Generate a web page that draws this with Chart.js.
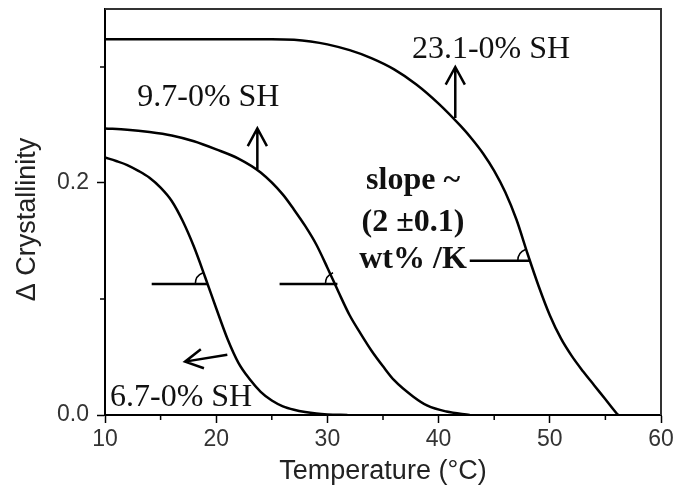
<!DOCTYPE html>
<html>
<head>
<meta charset="utf-8">
<title>Delta Crystallinity vs Temperature</title>
<script src="https://cdn.jsdelivr.net/npm/chart.js@4.4.0/dist/chart.umd.min.js"></script>
<style>
  html, body { margin: 0; padding: 0; background: #fff; }
  canvas { display: block; }
</style>
</head>
<body>
<canvas id="chart" width="673" height="497"></canvas>
<script>
// 6.7-0% SH
const temp67  = [10, 11, 12, 13, 14, 15, 16, 17, 18, 19, 20, 21, 22, 23, 24, 25, 26, 27, 28, 29, 30, 31.8];
const cryst67 = [0.222, 0.219, 0.2155, 0.2105, 0.2045, 0.196, 0.1845, 0.167, 0.145, 0.119, 0.092, 0.066, 0.045, 0.031, 0.020, 0.0125, 0.0075, 0.0045, 0.0025, 0.0012, 0.0005, 0];

// 9.7-0% SH
const temp97  = [10, 12, 14, 16, 18, 20, 22, 24, 26, 27, 28, 29, 30, 31, 32, 33, 34, 35, 36, 37.7, 39, 40.7, 42.8];
const cryst97 = [0.247, 0.246, 0.244, 0.241, 0.236, 0.229, 0.221, 0.209, 0.190, 0.177, 0.163, 0.147, 0.127, 0.106, 0.086, 0.070, 0.055, 0.042, 0.030, 0.016, 0.008, 0.003, 0];

// 23.1-0% SH
const temp231  = [10, 15, 20, 25, 27, 28.5, 30, 32, 34, 36, 38, 40, 42, 43, 44, 45, 46, 47, 48, 49, 50, 51, 52, 53, 54, 55, 56, 56.15];
const cryst231 = [0.324, 0.324, 0.324, 0.324, 0.3235, 0.322, 0.3195, 0.3145, 0.3075, 0.298, 0.285, 0.2685, 0.249, 0.238, 0.2255, 0.2105, 0.192, 0.1685, 0.139, 0.111, 0.086, 0.066, 0.0505, 0.0375, 0.0255, 0.0135, 0.0015, 0];

// axis ticks
const xTicks = [10, 20, 30, 40, 50, 60];
const xMinor = [15, 25, 35, 45, 55];
const yTicks = [0.0, 0.2];
const yMinor = [0.1, 0.3];

// annotations (data coordinates)
const slopeMarks = [
  { x0: 14.2, x1: 19.2, y: 0.113 },
  { x0: 25.7, x1: 30.9, y: 0.113 },
  { x0: 42.8, x1: 48.2, y: 0.133 }
];
const arrows = [
  { from: [23.7, 0.212], to: [23.7, 0.247] },
  { from: [41.5, 0.256], to: [41.5, 0.300] },
  { from: [21.0, 0.052], to: [17.2, 0.046] }
];
const serifLabels = [
  { text: '23.1-0% SH', x: 37.6, y: 0.308, align: 'left',   bold: false },
  { text: '9.7-0% SH',  x: 12.9, y: 0.266, align: 'left',   bold: false },
  { text: '6.7-0% SH',  x: 10.45, y: 0.008, align: 'left',  bold: false },
  { text: 'slope ~',    x: 37.7, y: 0.195, align: 'center', bold: true },
  { text: '(2 \u00b10.1)', x: 37.7, y: 0.159, align: 'center', bold: true },
  { text: 'wt% /K',     x: 37.7, y: 0.127, align: 'center', bold: true }
];

function toPx(chart, x, y) {
  return [chart.scales.x.getPixelForValue(x), chart.scales.y.getPixelForValue(y)];
}

// 枠線・補助目盛・注釈を描く
const decorPlugin = {
  id: 'decor',
  afterDraw(chart) {
    const ctx = chart.ctx;
    const a = chart.chartArea;
    const xs = chart.scales.x;
    const ys = chart.scales.y;
    ctx.save();

    // top / right frame
    ctx.strokeStyle = '#333';
    ctx.lineWidth = 2;
    ctx.beginPath();
    ctx.moveTo(a.left, a.top);
    ctx.lineTo(a.right, a.top);
    ctx.lineTo(a.right, a.bottom);
    ctx.stroke();

    // minor ticks
    ctx.strokeStyle = '#000';
    ctx.lineWidth = 1.5;
    ctx.beginPath();
    xMinor.forEach(v => {
      const px = xs.getPixelForValue(v);
      ctx.moveTo(px, a.bottom);
      ctx.lineTo(px, a.bottom + 5);
    });
    yMinor.forEach(v => {
      const py = ys.getPixelForValue(v);
      ctx.moveTo(a.left, py);
      ctx.lineTo(a.left - 5, py);
    });
    ctx.stroke();

    // slope lines + angle arcs
    slopeMarks.forEach(m => {
      const [p0, py] = toPx(chart, m.x0, m.y);
      const [p1] = toPx(chart, m.x1, m.y);
      ctx.lineWidth = 2.5;
      ctx.beginPath();
      ctx.moveTo(p0, py);
      ctx.lineTo(p1, py);
      ctx.stroke();
      ctx.lineWidth = 1.5;
      ctx.beginPath();
      ctx.arc(p1, py, 12, Math.PI, Math.PI + 1.2);
      ctx.stroke();
    });

    // arrows
    ctx.lineWidth = 2.5;
    arrows.forEach(ar => {
      const [fx, fy] = toPx(chart, ar.from[0], ar.from[1]);
      const [tx, ty] = toPx(chart, ar.to[0], ar.to[1]);
      const ang = Math.atan2(ty - fy, tx - fx);
      const len = 20, wid = 0.5;
      ctx.beginPath();
      ctx.moveTo(fx, fy);
      ctx.lineTo(tx, ty);
      ctx.moveTo(tx - len * Math.cos(ang - wid), ty - len * Math.sin(ang - wid));
      ctx.lineTo(tx, ty);
      ctx.lineTo(tx - len * Math.cos(ang + wid), ty - len * Math.sin(ang + wid));
      ctx.stroke();
    });

    // labels
    ctx.fillStyle = '#111';
    ctx.textBaseline = 'alphabetic';
    serifLabels.forEach(l => {
      const [px, py] = toPx(chart, l.x, l.y);
      ctx.font = (l.bold ? 'bold ' : '') + '32px "Liberation Serif", "Times New Roman", serif';
      ctx.textAlign = l.align;
      ctx.fillText(l.text, px, py);
    });

    ctx.restore();
  }
};

const tickFont = { family: '"Liberation Sans", Arial, sans-serif', size: 23 };

new Chart(document.getElementById('chart').getContext('2d'), {
  type: 'line',
  data: {
    datasets: [
      { label: '6.7-0% SH',  data: temp67.map((t, i) => ({ x: t, y: cryst67[i] })) },
      { label: '9.7-0% SH',  data: temp97.map((t, i) => ({ x: t, y: cryst97[i] })) },
      { label: '23.1-0% SH', data: temp231.map((t, i) => ({ x: t, y: cryst231[i] })) }
    ]
  },
  options: {
    responsive: false,
    animation: false,
    events: [],
    layout: { padding: { top: 9, right: 12, left: 0, bottom: 0 } },
    plugins: {
      legend: { display: false },
      tooltip: { enabled: false }
    },
    elements: {
      point: { radius: 0 },
      line: { borderColor: '#000', borderWidth: 2.5, cubicInterpolationMode: 'monotone', fill: false }
    },
    scales: {
      x: {
        type: 'linear',
        min: 10,
        max: 60,
        afterBuildTicks: s => { s.ticks = xTicks.map(v => ({ value: v })); },
        afterFit: s => { s.height = 82; s.paddingLeft = 0; s.paddingRight = 0; },
        grid: { drawOnChartArea: false, tickLength: 8, tickWidth: 1.5, tickColor: '#000' },
        border: { color: '#000', width: 2 },
        ticks: { font: tickFont, color: '#333', padding: 3, maxRotation: 0, autoSkip: false },
        title: {
          display: true,
          text: 'Temperature (\u00b0C)',
          font: { family: '"Liberation Sans", Arial, sans-serif', size: 27 },
          color: '#222',
          padding: { top: 0, bottom: 9 }
        }
      },
      y: {
        type: 'linear',
        min: 0,
        max: 0.35,
        afterBuildTicks: s => { s.ticks = yTicks.map(v => ({ value: v })); },
        afterFit: s => { s.width = 105; s.paddingTop = 0; s.paddingBottom = 0; },
        grid: { drawOnChartArea: false, tickLength: 8, tickWidth: 1.5, tickColor: '#000' },
        border: { color: '#000', width: 2 },
        ticks: { font: tickFont, color: '#333', padding: 8, callback: v => v.toFixed(1) },
        title: {
          display: true,
          text: '\u0394 Crystallinity  ',
          font: { family: '"Liberation Sans", Arial, sans-serif', size: 27 },
          color: '#222',
          padding: { top: 11, bottom: 0 }
        }
      }
    }
  },
  plugins: [decorPlugin]
});
</script>
</body>
</html>
